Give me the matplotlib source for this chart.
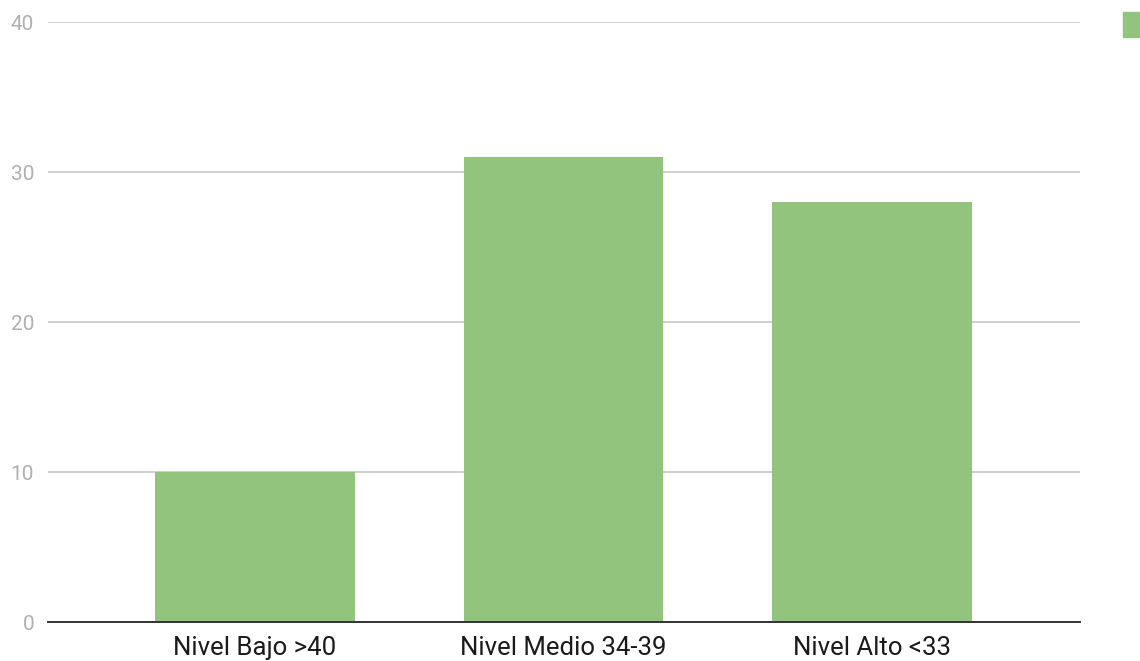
import matplotlib
matplotlib.use("Agg")
import matplotlib.pyplot as plt
from matplotlib.patches import Rectangle

categories = ["Nivel Bajo >40", "Nivel Medio 34-39", "Nivel Alto <33"]
values = [10, 31, 28]
yticks = [0, 10, 20, 30, 40]

plt.rcParams['font.family'] = ['Roboto', 'DejaVu Sans']

fig = plt.figure(figsize=(11.4, 6.61), dpi=100)
ax = fig.add_axes([48/1140, 39/661, (1080-48)/1140, 600/661])

x = list(range(len(categories)))
ax.bar(x, values, width=0.648, color="#93c47d", zorder=3)

ax.set_xlim(-0.671, 2.674)
ax.set_ylim(0, 40)
ax.set_yticks(yticks)
ax.set_yticklabels([str(t) for t in yticks], color="#b0b0b0", fontsize=15)
ax.set_xticks(x)
ax.set_xticklabels(categories, fontsize=18.5, color="#1a1a1a")
ax.tick_params(axis='both', length=0)
ax.tick_params(axis='y', pad=10)
ax.tick_params(axis='x', pad=10)

ax.grid(axis='y', color="#cccccc", linewidth=1.3, zorder=0)
for s in ["top", "right", "left"]:
    ax.spines[s].set_visible(False)
ax.spines["bottom"].set_color("#333333")
ax.spines["bottom"].set_linewidth(1.4)
ax.spines["bottom"].set_zorder(4)

# legend swatch (cut off at right edge)
fig.patches.append(Rectangle((1123/1140, (661-37)/661), 20/1140, 25/661,
                             transform=fig.transFigure, color="#93c47d"))

fig.savefig("out.png", dpi=100)
